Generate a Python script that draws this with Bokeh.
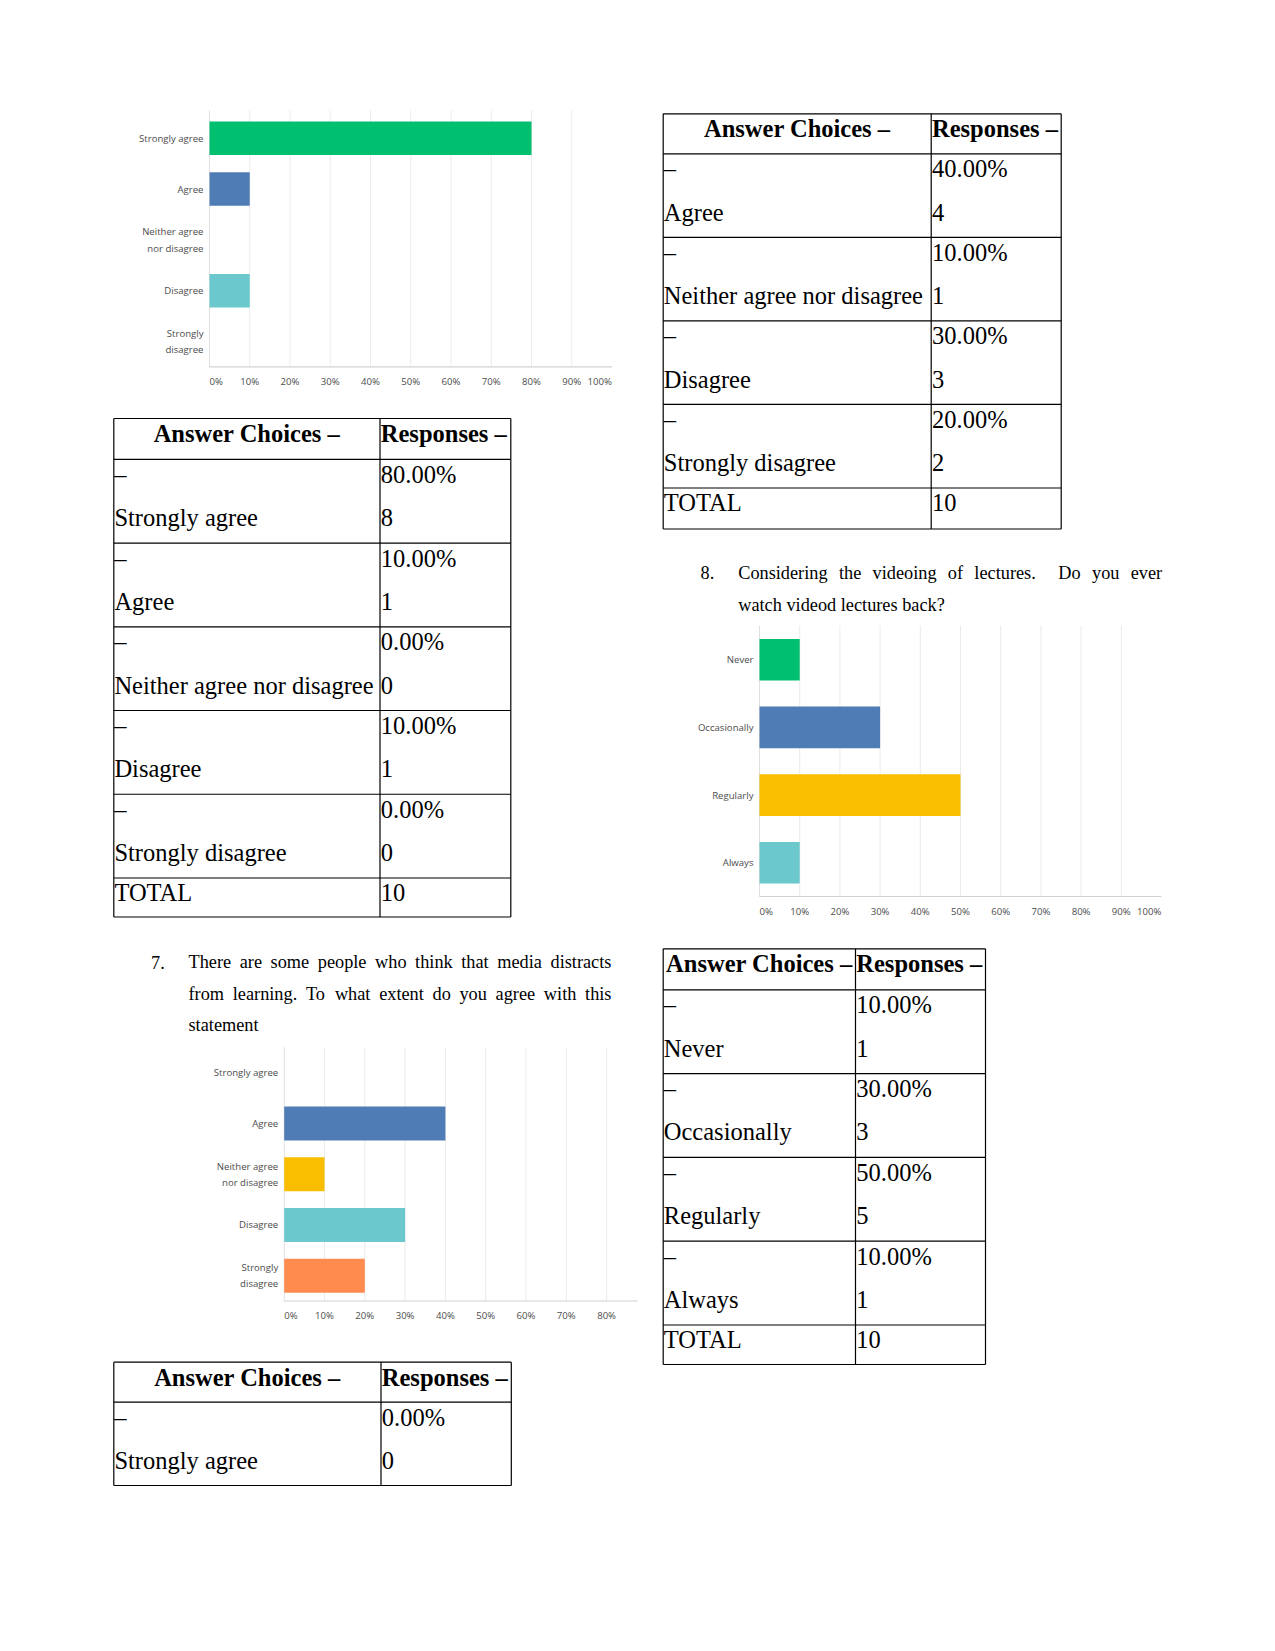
from bokeh.plotting import figure
from bokeh.models import Range1d
from bokeh.core.properties import value
from bokeh.embed import file_html
from bokeh.resources import INLINE

# ---------------- data ----------------
agree_choices = ["Strongly agree", "Agree", "Neither agree nor disagree", "Disagree", "Strongly disagree"]
agree_chart_labels = ["Strongly agree", "Agree", "Neither agree\nnor disagree", "Disagree", "Strongly\ndisagree"]
agree_colors = ["#00BF6F", "#507CB6", "#F9BE00", "#6BC8CD", "#FF8B4F"]

q6_pct = [80, 10, 0, 10, 0]
q6_count = [8, 1, 0, 1, 0]
q6_total = 10

q7_pct = [0, 40, 10, 30, 20]
q7_count = [0, 4, 1, 3, 2]
q7_total = 10

q8_choices = ["Never", "Occasionally", "Regularly", "Always"]
q8_colors = ["#00BF6F", "#507CB6", "#F9BE00", "#6BC8CD"]
q8_pct = [10, 30, 50, 10]
q8_count = [1, 3, 5, 1]
q8_total = 10

x_ticks = [0, 10, 20, 30, 40, 50, 60, 70, 80, 90, 100]
grid_ticks = [10, 20, 30, 40, 50, 60, 70, 80, 90]

q7_number = "7."
q7_lines = ["There are some people who think that media distracts",
            "from learning. To what extent do you agree with this",
            "statement"]
q8_number = "8."
q8_lines = ["Considering the videoing of lectures.  Do you ever",
            "watch videod lectures back?"]

header_left = "Answer Choices \u2013"
header_right = "Responses \u2013"
dash = "\u2013"
total_label = "TOTAL"

SERIF = "Liberation Serif"
SANS = "Open Sans"
TABLE_FS = 24.5
BODY_FS = 18.3
CHART_FS = 9.6
PAGE_W, PAGE_H = 1275, 1651
BASE_SHIFT = 0.343  # correction of rendered baseline, in em

# Times-compatible advance widths (per 1000 em) used for justified lines
TW = {" ": 250, ".": 250, "?": 444, "A": 722, "C": 667, "D": 722, "T": 611,
      "a": 444, "b": 500, "c": 444, "d": 500, "e": 444, "f": 333, "g": 500, "h": 500,
      "i": 278, "j": 278, "k": 500, "l": 278, "m": 778, "n": 500, "o": 500, "p": 500,
      "q": 500, "r": 333, "s": 389, "t": 278, "u": 500, "v": 500, "w": 722, "x": 500,
      "y": 500, "z": 444}


def word_width(w, size):
    return sum(TW.get(ch, 500) for ch in w) * size / 1000.0


# ---------------- page figure ----------------
p = figure(width=PAGE_W, height=PAGE_H, x_range=Range1d(0, PAGE_W), y_range=Range1d(PAGE_H, 0),
           output_backend="svg", toolbar_location=None,
           x_axis_location=None, y_axis_location=None, min_border=0)
p.xgrid.visible = False
p.ygrid.visible = False
p.outline_line_color = None
p.background_fill_color = "white"
p.border_fill_color = "white"


def put_text(xs, ys, texts, size, bold=False, align="left", font=SERIF, color="black",
             baseline="alphabetic", **kw):
    if baseline == "alphabetic":
        ys = [y - BASE_SHIFT * size for y in ys]
    p.text(x=xs, y=ys, text=texts, text_font=value(font), text_font_size=f"{size}px",
           text_font_style="bold" if bold else "normal", text_align=align,
           text_baseline=baseline, text_color=color, **kw)


def draw_chart(name, labels, vals, colors, x0_px, px_per_unit, band_top, band_h,
               grid_top, axis_y, label_y, x_end, bar_frac):
    xn, yn = name + "_x", name + "_y"
    ranges_x = dict(p.extra_x_ranges)
    ranges_x[xn] = Range1d(-x0_px / px_per_unit, (PAGE_W - x0_px) / px_per_unit)
    p.extra_x_ranges = ranges_x
    ranges_y = dict(p.extra_y_ranges)
    ranges_y[yn] = Range1d((PAGE_H - band_top) / band_h, -band_top / band_h)
    p.extra_y_ranges = ranges_y

    n = len(labels)
    pos = [i + 0.5 for i in range(n)]

    g = [t for t in grid_ticks if t < x_end]
    p.segment(x0=g, x1=g, y0=[grid_top] * len(g), y1=[axis_y] * len(g),
              line_color="#ebebeb", line_width=1, x_range_name=xn)
    p.segment(x0=[0], x1=[0], y0=[grid_top], y1=[axis_y], line_color="#e0e0e0",
              line_width=1, x_range_name=xn)
    p.segment(x0=[0], x1=[x_end], y0=[axis_y], y1=[axis_y], line_color="#d2d2d2",
              line_width=1.2, x_range_name=xn)
    p.hbar(y=pos, left=0, right=vals, height=bar_frac, fill_color=colors, line_color=None,
           x_range_name=xn, y_range_name=yn)
    put_text([0] * n, pos, labels, CHART_FS, align="right", font=SANS, color="#4d4d4d",
             baseline="middle", x_offset=-6, text_line_height=1.25,
             x_range_name=xn, y_range_name=yn)
    shown = [t for t in x_ticks if t <= x_end]
    first, last = shown[0], shown[-1]
    put_text([first], [label_y], [f"{first}%"], CHART_FS, align="left", font=SANS,
             color="#4d4d4d", baseline="middle", x_range_name=xn)
    mids = shown[1:-1] if last == 100 else shown[1:]
    put_text(mids, [label_y] * len(mids), [f"{t}%" for t in mids], CHART_FS, align="center",
             font=SANS, color="#4d4d4d", baseline="middle", x_range_name=xn)
    if last == 100:
        put_text([last], [label_y], [f"{last}%"], CHART_FS, align="right", font=SANS,
                 color="#4d4d4d", baseline="middle", x_range_name=xn)


def draw_table(x0, xc, x1, top, head_h, row_h, labels, pcts, counts, total=None, total_h=39.5):
    ys = [top, top + head_h]
    for _ in labels:
        ys.append(ys[-1] + row_h)
    row_tops = ys[1:-1]
    bottom = ys[-1]
    total_top = bottom
    if total is not None:
        bottom = bottom + total_h
        ys.append(bottom)
    p.segment(x0=[x0] * len(ys), x1=[x1] * len(ys), y0=ys, y1=ys, line_color="black", line_width=1.2)
    p.segment(x0=[x0, xc, x1], x1=[x0, xc, x1], y0=[top] * 3, y1=[bottom] * 3,
              line_color="black", line_width=1.2)
    put_text([(x0 + xc) / 2], [top + 23.4], [header_left], TABLE_FS, bold=True, align="center")
    put_text([xc + 0.8], [top + 23.4], [header_right], TABLE_FS, bold=True)
    tx, ty, tt = [], [], []
    for rt, lab, pc, ct in zip(row_tops, labels, pcts, counts):
        tx += [x0 + 0.5, x0 + 0.6, xc + 0.8, xc + 0.8]
        ty += [rt + 23.5, rt + 66.7, rt + 23.5, rt + 66.7]
        tt += [dash, lab, f"{pc:.2f}%", str(ct)]
    if total is not None:
        tx += [x0 + 0.6, xc + 0.8]
        ty += [total_top + 23.2, total_top + 23.2]
        tt += [total_label, str(total)]
    put_text(tx, ty, tt, TABLE_FS)


def draw_paragraph(number, num_x, lines, x0, x1, y0, line_h, size):
    put_text([num_x], [y0], [number], size)
    for i, line in enumerate(lines):
        y = y0 + i * line_h
        if i < len(lines) - 1:
            words = line.split(" ")
            widths = [word_width(w, size) for w in words]
            gap = (x1 - x0 - sum(widths)) / (len(words) - 1)
            xs, x = [], x0
            for w in widths:
                xs.append(x)
                x += w + gap
            keep = [(xx, w) for xx, w in zip(xs, words) if w]
            put_text([k[0] for k in keep], [y] * len(keep), [k[1] for k in keep], size)
        else:
            put_text([x0], [y], [line], size)


# ---------------- Q6 chart + table (left top) ----------------
draw_chart("q6", agree_chart_labels, q6_pct, agree_colors, x0_px=209.0, px_per_unit=4.025,
           band_top=112.4, band_h=50.8, grid_top=110.0, axis_y=366.4, label_y=381.2,
           x_end=100, bar_frac=0.66)
draw_table(113.3, 379.5, 510.3, 418.0, 40.8, 83.74, agree_choices, q6_pct, q6_count,
           total=q6_total, total_h=39.0)

# ---------------- Q7 text, chart, table (left bottom + right top) ----------------
draw_paragraph(q7_number, 150.5, q7_lines, 188.0, 611.0, 968.0, 31.5, BODY_FS)
draw_chart("q7", agree_chart_labels, q7_pct, agree_colors, x0_px=283.7, px_per_unit=4.03,
           band_top=1047.0, band_h=50.7, grid_top=1046.7, axis_y=1300.5, label_y=1314.8,
           x_end=87.7, bar_frac=0.67)
draw_table(113.3, 380.5, 510.8, 1361.7, 40.0, 83.3, agree_choices[:1], q7_pct[:1], q7_count[:1])
draw_table(662.7, 930.7, 1060.7, 113.3, 40.0, 83.55, agree_choices[1:], q7_pct[1:], q7_count[1:],
           total=q7_total, total_h=41.0)

# ---------------- Q8 text, chart, table (right) ----------------
draw_paragraph(q8_number, 700, q8_lines, 737.7, 1161.7, 578.3, 32.5, BODY_FS)
draw_chart("q8", q8_choices, q8_pct, q8_colors, x0_px=759.0, px_per_unit=4.02,
           band_top=625.4, band_h=67.67, grid_top=625.0, axis_y=896.0, label_y=911.2,
           x_end=100, bar_frac=0.616)
draw_table(662.7, 855.0, 985.0, 948.3, 41.0, 83.8, q8_choices, q8_pct, q8_count,
           total=q8_total, total_h=39.5)

open("out.html", "w").write(file_html(p, INLINE))
